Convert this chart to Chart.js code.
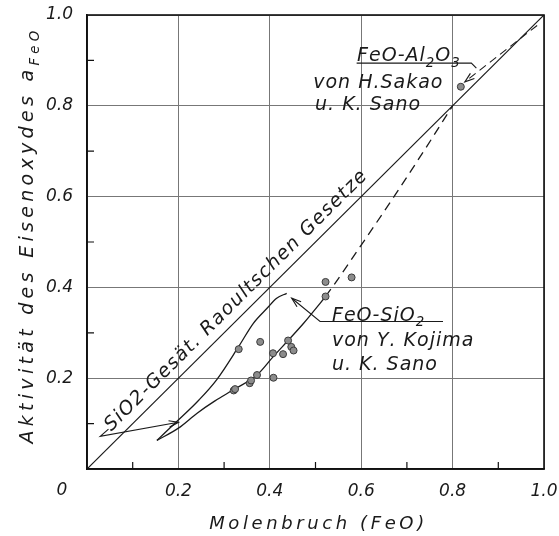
<!DOCTYPE html>
<html>
<head>
<meta charset="utf-8">
<script src="https://cdn.jsdelivr.net/npm/chart.js@4.4.1/dist/chart.umd.min.js"></script>
<style>
  body { margin: 0; background: #fff; }
  #wrap { width: 559px; height: 536px; }
</style>
</head>
<body>
<div id="wrap"><canvas id="chart"></canvas></div>
<script>
// Raoultsche Gerade
const raoultX = [0, 1];
const raoultY = [0, 1];

// SiO2-gesättigte Kurve
const gesX = [0.153, 0.197, 0.245, 0.284, 0.332, 0.364, 0.394, 0.415, 0.437];
const gesY = [0.063, 0.105, 0.152, 0.197, 0.270, 0.321, 0.354, 0.376, 0.387];

// FeO-SiO2 Kurve (ausgezogen) und Verlängerung (gestrichelt)
const kojimaX = [0.153, 0.200, 0.241, 0.280, 0.321, 0.372, 0.408, 0.440, 0.474, 0.510, 0.522];
const kojimaY = [0.063, 0.090, 0.123, 0.150, 0.175, 0.207, 0.248, 0.283, 0.321, 0.365, 0.380];
const extrapX = [0.522, 0.540, 0.600, 0.675, 0.740, 0.800];
const extrapY = [0.380, 0.405, 0.493, 0.605, 0.705, 0.800];

// Messpunkte
const sio2PunkteX = [0.321, 0.324, 0.332, 0.356, 0.359, 0.372, 0.379, 0.407, 0.408, 0.429, 0.440, 0.447, 0.452, 0.522, 0.522, 0.579];
const sio2PunkteY = [0.173, 0.176, 0.264, 0.189, 0.195, 0.207, 0.280, 0.255, 0.201, 0.253, 0.283, 0.269, 0.261, 0.412, 0.380, 0.422];
const al2o3PunktX = [0.818];
const al2o3PunktY = [0.842];

// Hinweislinien (Pfeile)
const pfeilGesX = [0.047, 0.029, 0.200];
const pfeilGesY = [0.088, 0.072, 0.103];
const pfeilKojimaX = [0.779, 0.510, 0.448];
const pfeilKojimaY = [0.325, 0.325, 0.376];
const strichAlX = [0.590, 0.841, 0.852];
const strichAlY = [0.894, 0.894, 0.883];
const pfeilAlX = [0.985, 0.827];
const pfeilAlY = [0.977, 0.853];

// Achsen
const xTicks = ['0.2', '0.4', '0.6', '0.8', '1.0'];
const yTicks = ['0.2', '0.4', '0.6', '0.8', '1.0'];

const pts = (xs, ys) => xs.map((x, i) => ({ x: x, y: ys[i] }));

const FONT = '"DejaVu Sans", sans-serif';
const INK = '#1a1a1a';

// Beschriftungen im Diagramm
const texte = [
  { parts: [['FeO-Al'], ['2', 1], ['O'], ['3', 1]], x: 0.591, y: 0.899 },
  { parts: [['von H.Sakao']], x: 0.495, y: 0.839 },
  { parts: [['u. K. Sano']], x: 0.499, y: 0.791 },
  { parts: [['FeO-SiO'], ['2', 1]], x: 0.536, y: 0.327 },
  { parts: [['von Y. Kojima']], x: 0.536, y: 0.271 },
  { parts: [['u. K. Sano']], x: 0.536, y: 0.219 }
];

function drawParts(ctx, parts, x, y, size, spacing) {
  let cx = x;
  parts.forEach(p => {
    const sub = p[1];
    const fs = sub ? size * 0.7 : size;
    ctx.font = 'italic ' + fs + 'px ' + FONT;
    const dy = sub ? size * 0.3 : 0;
    for (const ch of p[0]) {
      ctx.fillText(ch, cx, y + dy);
      cx += ctx.measureText(ch).width + spacing;
    }
  });
  return cx - x;
}

function partsWidth(ctx, parts, size, spacing) {
  let w = 0;
  parts.forEach(p => {
    const fs = p[1] ? size * 0.7 : size;
    ctx.font = 'italic ' + fs + 'px ' + FONT;
    for (const ch of p[0]) w += ctx.measureText(ch).width + spacing;
  });
  return w;
}

const figurPlugin = {
  id: 'figur',
  afterDatasetsDraw(chart) {
    const ctx = chart.ctx;
    ctx.save();
    ctx.strokeStyle = INK;
    ctx.lineWidth = 1.2;
    ctx.setLineDash([]);
    chart.data.datasets.forEach((ds, i) => {
      if (!ds.arrow) return;
      const el = chart.getDatasetMeta(i).data;
      const a = el[el.length - 2], b = el[el.length - 1];
      const ang = Math.atan2(b.y - a.y, b.x - a.x);
      const L = 10, w = 0.33;
      ctx.beginPath();
      ctx.moveTo(b.x - L * Math.cos(ang - w), b.y - L * Math.sin(ang - w));
      ctx.lineTo(b.x, b.y);
      ctx.lineTo(b.x - L * Math.cos(ang + w), b.y - L * Math.sin(ang + w));
      ctx.stroke();
    });
    ctx.restore();
  },
  afterDraw(chart) {
    const ctx = chart.ctx;
    const { left, right, top, bottom } = chart.chartArea;
    const sx = chart.scales.x, sy = chart.scales.y;
    ctx.save();
    // Rahmen
    ctx.strokeStyle = '#111';
    ctx.lineWidth = 1.6;
    ctx.strokeRect(left, top, right - left, bottom - top);
    // Zwischenstriche innen
    ctx.lineWidth = 1.2;
    for (let k = 1; k < 10; k += 2) {
      const px = sx.getPixelForValue(k / 10);
      const py = sy.getPixelForValue(k / 10);
      ctx.beginPath();
      ctx.moveTo(px, bottom); ctx.lineTo(px, bottom - 7);
      ctx.moveTo(left, py); ctx.lineTo(left + 7, py);
      ctx.stroke();
    }
    ctx.fillStyle = INK;
    // Ursprung
    ctx.font = 'italic 17px ' + FONT;
    ctx.textAlign = 'center';
    ctx.textBaseline = 'middle';
    ctx.fillText('0', left - 25, bottom + 22);
    ctx.textAlign = 'left';
    ctx.textBaseline = 'alphabetic';
    // Texte im Diagramm
    texte.forEach(t => {
      drawParts(ctx, t.parts, sx.getPixelForValue(t.x), sy.getPixelForValue(t.y), 19, 1);
    });
    // Beschriftung entlang der Raoultschen Geraden
    const p0x = sx.getPixelForValue(0), p0y = sy.getPixelForValue(0);
    const p1x = sx.getPixelForValue(1), p1y = sy.getPixelForValue(1);
    const ang = Math.atan2(p1y - p0y, p1x - p0x);
    ctx.save();
    ctx.translate(sx.getPixelForValue(0.053), sy.getPixelForValue(0.082));
    ctx.rotate(ang);
    drawParts(ctx, [['SiO2-Gesät. Raoultschen Gesetze']], 0, 0, 19, 1.4);
    ctx.restore();
    // x-Achsentitel
    const xt = [['Molenbruch (FeO)']];
    const xw = partsWidth(ctx, xt, 18, 3.6);
    drawParts(ctx, xt, (left + right) / 2 + 3 - xw / 2, bottom + 60, 18, 3.6);
    // y-Achsentitel
    const yt = [['Aktivität des Eisenoxydes a'], ['FeO', 1]];
    const yw = partsWidth(ctx, yt, 19, 4.3);
    ctx.save();
    ctx.translate(left - 54, (top + bottom) / 2 - 7 + yw / 2);
    ctx.rotate(-Math.PI / 2);
    drawParts(ctx, yt, 0, 0, 19, 4.3);
    ctx.restore();
    ctx.restore();
  }
};

const lineBase = { showLine: true, pointRadius: 0, borderColor: INK, borderWidth: 1.3, fill: false, order: 1 };

// Randabstände der Achsen werden über layout.padding gesteuert
const noOverflow = s => { s.paddingTop = 0; s.paddingBottom = 0; s.paddingLeft = 0; s.paddingRight = 0; };

new Chart(document.getElementById('chart'), {
  type: 'scatter',
  plugins: [figurPlugin],
  data: {
    datasets: [
      {
        label: 'FeO-SiO2 Messpunkte',
        data: pts(sio2PunkteX, sio2PunkteY),
        pointRadius: 3.5,
        backgroundColor: '#8c8c8c',
        borderColor: '#3a3a3a',
        borderWidth: 1,
        order: 0
      },
      {
        label: 'FeO-Al2O3 Messpunkt',
        data: pts(al2o3PunktX, al2o3PunktY),
        pointRadius: 3.5,
        backgroundColor: '#8c8c8c',
        borderColor: '#3a3a3a',
        borderWidth: 1,
        order: 0
      },
      { ...lineBase, label: 'Raoult', data: pts(raoultX, raoultY), borderWidth: 1.2 },
      { ...lineBase, label: 'SiO2-gesättigt', data: pts(gesX, gesY), cubicInterpolationMode: 'monotone' },
      { ...lineBase, label: 'FeO-SiO2', data: pts(kojimaX, kojimaY), cubicInterpolationMode: 'monotone' },
      { ...lineBase, label: 'FeO-SiO2 extrapoliert', data: pts(extrapX, extrapY), cubicInterpolationMode: 'monotone', borderDash: [9, 6] },
      { ...lineBase, label: 'Pfeil SiO2-gesätt.', data: pts(pfeilGesX, pfeilGesY), borderWidth: 1.1, arrow: true },
      { ...lineBase, label: 'Pfeil FeO-SiO2', data: pts(pfeilKojimaX, pfeilKojimaY), borderWidth: 1.1, arrow: true },
      { ...lineBase, label: 'Strich FeO-Al2O3', data: pts(strichAlX, strichAlY), borderWidth: 1.1 },
      { ...lineBase, label: 'Pfeil FeO-Al2O3', data: pts(pfeilAlX, pfeilAlY), borderWidth: 1.1, borderDash: [8, 5], arrow: true }
    ]
  },
  options: {
    responsive: true,
    maintainAspectRatio: false,
    animation: false,
    layout: { padding: { left: 0, right: 15, top: 15, bottom: 0 } },
    plugins: { legend: { display: false }, tooltip: { enabled: false } },
    scales: {
      x: {
        type: 'linear',
        min: 0, max: 1,
        afterFit: s => { s.height = 67; noOverflow(s); },
        ticks: {
          stepSize: 0.1,
          padding: 12,
          color: INK,
          font: { family: FONT, size: 17, style: 'italic' },
          maxRotation: 0,
          autoSkip: false,
          callback: v => { const k = Math.round(v * 10); return (k > 0 && k % 2 === 0) ? xTicks[k / 2 - 1] : ''; }
        },
        grid: {
          drawTicks: false,
          lineWidth: 1,
          color: c => (Math.round(c.tick.value * 10) % 2 === 0) ? '#777' : 'rgba(0,0,0,0)'
        },
        border: { display: true, color: '#111', width: 1.6 }
      },
      y: {
        type: 'linear',
        min: 0, max: 1,
        afterFit: s => { s.width = 87; noOverflow(s); },
        ticks: {
          stepSize: 0.1,
          padding: 14,
          color: INK,
          font: { family: FONT, size: 17, style: 'italic' },
          autoSkip: false,
          callback: v => { const k = Math.round(v * 10); return (k > 0 && k % 2 === 0) ? yTicks[k / 2 - 1] : ''; }
        },
        grid: {
          drawTicks: false,
          lineWidth: 1,
          color: c => (Math.round(c.tick.value * 10) % 2 === 0) ? '#777' : 'rgba(0,0,0,0)'
        },
        border: { display: true, color: '#111', width: 1.6 }
      }
    }
  }
});
</script>
</body>
</html>
